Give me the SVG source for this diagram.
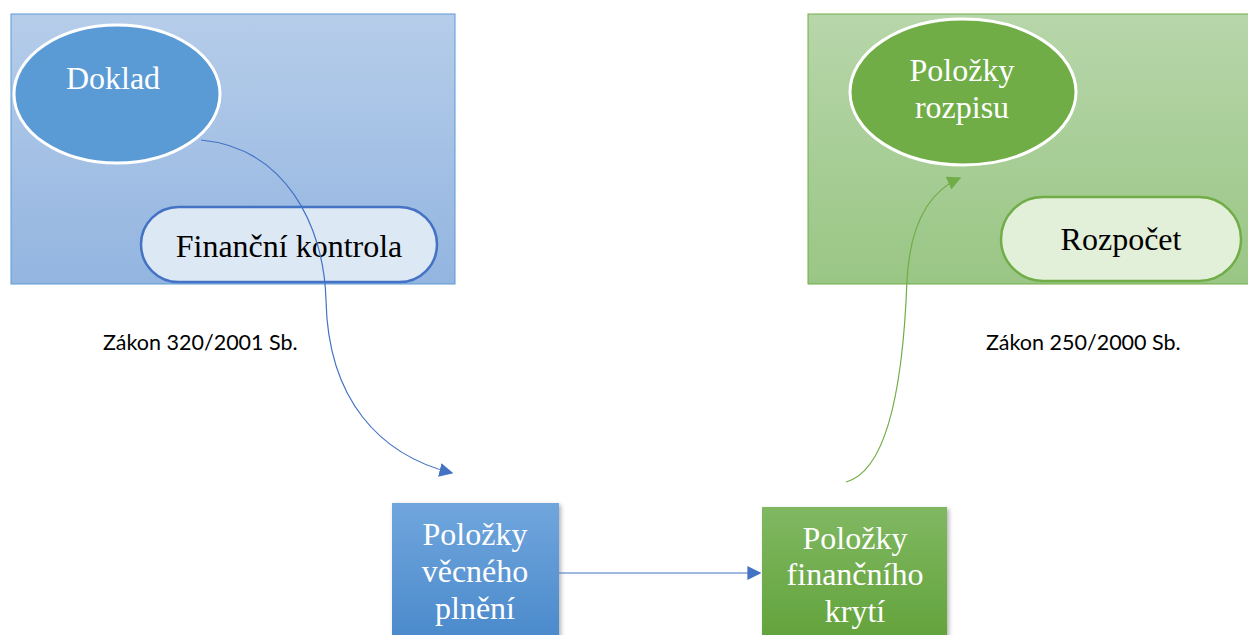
<svg xmlns="http://www.w3.org/2000/svg" width="1248" height="635" viewBox="0 0 1248 635">
<style>
.serif{font-family:"Liberation Serif","Times New Roman",serif;font-size:32px;text-anchor:middle}
.w{fill:#ffffff}
.k{fill:#000000}
.law{font-family:Lato,"Open Sans",sans-serif;font-size:21.5px;fill:#000}
.conn{fill:none;stroke-width:1.2}
</style>
<defs>
<linearGradient id="gBlue" x1="0" y1="0" x2="0" y2="1"><stop offset="0" stop-color="#b6cdea"/><stop offset="1" stop-color="#93b5e0"/></linearGradient>
<linearGradient id="gGreen" x1="0" y1="0" x2="0" y2="1"><stop offset="0" stop-color="#b7d6aa"/><stop offset="1" stop-color="#9ac685"/></linearGradient>
<linearGradient id="bBlue" x1="0" y1="0" x2="0" y2="1"><stop offset="0" stop-color="#70a6dd"/><stop offset="1" stop-color="#4a89cb"/></linearGradient>
<linearGradient id="bGreen" x1="0" y1="0" x2="0" y2="1"><stop offset="0" stop-color="#80b862"/><stop offset="1" stop-color="#62a23a"/></linearGradient>
<marker id="aBlue" viewBox="0 0 10 10" refX="9" refY="5" markerWidth="14" markerHeight="14" markerUnits="userSpaceOnUse" orient="auto"><path d="M0,0 L10,5 L0,10 z" fill="#4472c4"/></marker>
<marker id="aGreen" viewBox="0 0 10 10" refX="9" refY="5" markerWidth="14" markerHeight="14" markerUnits="userSpaceOnUse" orient="auto"><path d="M0,0 L10,5 L0,10 z" fill="#70ad47"/></marker>
<filter id="sh" x="-10%" y="-10%" width="130%" height="130%"><feDropShadow dx="2" dy="2" stdDeviation="2" flood-color="#000" flood-opacity="0.3"/></filter>
</defs>

<g id="panel-left">
<rect x="11" y="14" width="444" height="270" fill="url(#gBlue)" stroke="#5b9bd5" stroke-width="1"/>
</g>
<g id="panel-right">
<rect x="808" y="14" width="445" height="270" fill="url(#gGreen)" stroke="#70ad47" stroke-width="1"/>
</g>

<g id="doklad">
<ellipse cx="117" cy="94" rx="103" ry="69" fill="#5b9bd5" stroke="#ffffff" stroke-width="3"/>
<text class="serif w" x="113" y="89">Doklad</text>
</g>

<g id="financni-kontrola">
<rect x="141" y="207" width="296" height="75" rx="37.5" fill="#dde8f5" stroke="#4472c4" stroke-width="2.5"/>
<text class="serif k" x="289" y="257">Finanční kontrola</text>
</g>

<g id="polozky-rozpisu">
<ellipse cx="963" cy="92" rx="113" ry="73" fill="#70ad47" stroke="#ffffff" stroke-width="3"/>
<text class="serif w" x="962" y="81">Položky</text>
<text class="serif w" x="962" y="118">rozpisu</text>
</g>

<g id="rozpocet">
<rect x="1001" y="197" width="240" height="84" rx="42" fill="#e2efd9" stroke="#70ad47" stroke-width="2.5"/>
<text class="serif k" x="1121" y="250">Rozpočet</text>
</g>

<g id="zakon-320">
<text class="law" x="103" y="350">Zákon 320/2001 Sb.</text>
</g>
<g id="zakon-250">
<text class="law" x="986" y="350">Zákon 250/2000 Sb.</text>
</g>

<g id="polozky-vecneho-plneni">
<rect x="392" y="503" width="167" height="140" fill="url(#bBlue)" filter="url(#sh)"/>
<text class="serif w" x="475" y="545">Položky</text>
<text class="serif w" x="475" y="582">věcného</text>
<text class="serif w" x="475" y="619">plnění</text>
</g>

<g id="polozky-financniho-kryti">
<rect x="762" y="507" width="185" height="136" fill="url(#bGreen)" filter="url(#sh)"/>
<text class="serif w" x="855" y="549">Položky</text>
<text class="serif w" x="855" y="585">finančního</text>
<text class="serif w" x="855" y="622">krytí</text>
</g>

<g id="connectors">
<path class="conn" d="M201,140 C285,148 324,225 326,300 C328,400 380,455 452,473" stroke="#4472c4" marker-end="url(#aBlue)"/>
<path class="conn" d="M846,482 C898,468 905,335 907,280 C910,225 928,192 960,178" stroke="#70ad47" marker-end="url(#aGreen)"/>
<path class="conn" d="M559,573 L760,573" stroke="#4472c4" marker-end="url(#aBlue)"/>
</g>
</svg>
